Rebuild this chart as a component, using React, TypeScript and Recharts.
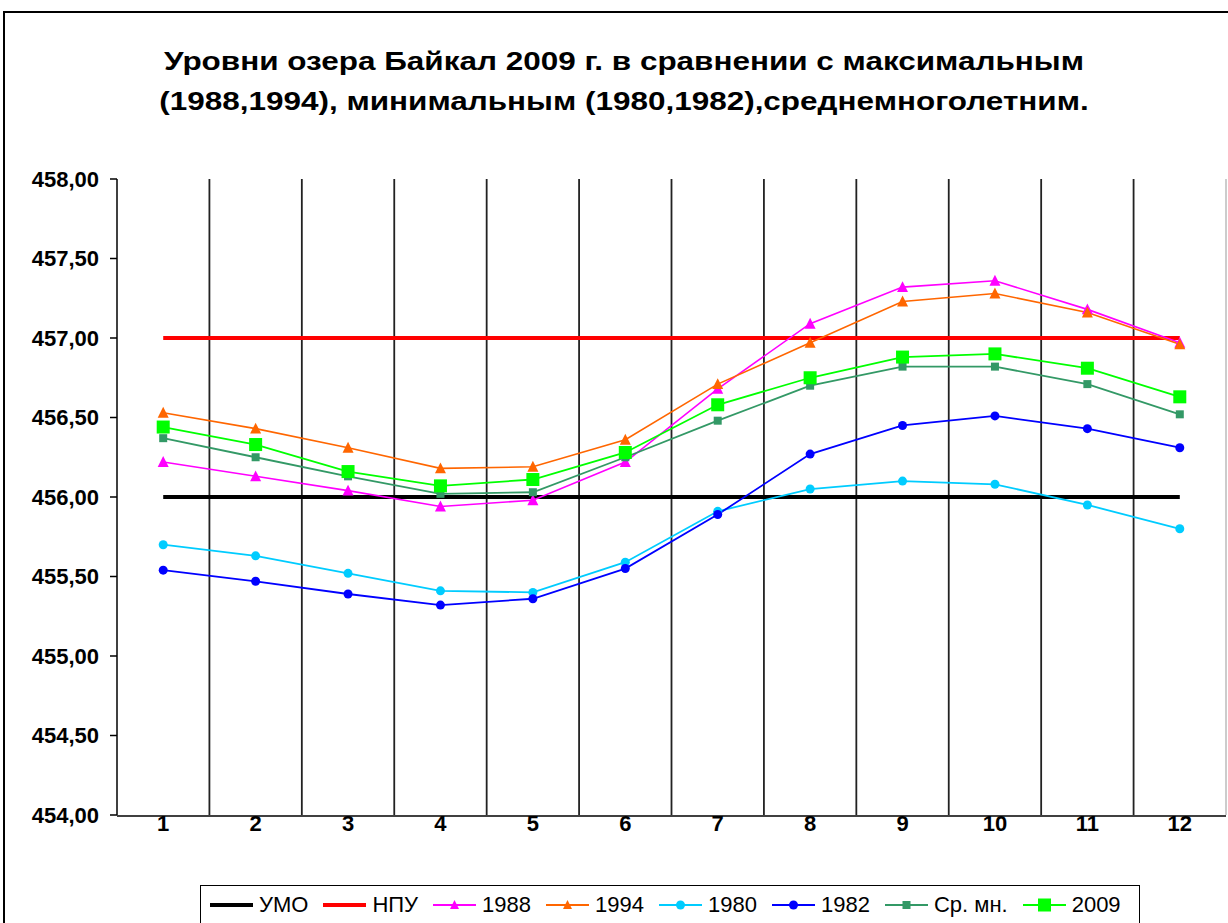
import React from 'react';
import {
  LineChart,
  Line,
  XAxis,
  YAxis,
  ReferenceLine,
  Legend
} from 'recharts';

// months 1..12
const months = [1, 2, 3, 4, 5, 6, 7, 8, 9, 10, 11, 12];

const umo = [456, 456, 456, 456, 456, 456, 456, 456, 456, 456, 456, 456];
const npu = [457, 457, 457, 457, 457, 457, 457, 457, 457, 457, 457, 457];
const y1988 = [456.22, 456.13, 456.04, 455.94, 455.98, 456.22, 456.68, 457.09, 457.32, 457.36, 457.18, 456.97];
const y1994 = [456.53, 456.43, 456.31, 456.18, 456.19, 456.36, 456.71, 456.97, 457.23, 457.28, 457.16, 456.96];
const y1980 = [455.70, 455.63, 455.52, 455.41, 455.40, 455.59, 455.91, 456.05, 456.10, 456.08, 455.95, 455.80];
const y1982 = [455.54, 455.47, 455.39, 455.32, 455.36, 455.55, 455.89, 456.27, 456.45, 456.51, 456.43, 456.31];
const avg = [456.37, 456.25, 456.13, 456.02, 456.03, 456.25, 456.48, 456.70, 456.82, 456.82, 456.71, 456.52];
const y2009 = [456.44, 456.33, 456.16, 456.07, 456.11, 456.28, 456.58, 456.75, 456.88, 456.90, 456.81, 456.63];

const yTicks = [454, 454.5, 455, 455.5, 456, 456.5, 457, 457.5, 458];

const data = months.map((m, i) => ({
  month: m,
  umo: umo[i],
  npu: npu[i],
  y1988: y1988[i],
  y1994: y1994[i],
  y1980: y1980[i],
  y1982: y1982[i],
  avg: avg[i],
  y2009: y2009[i]
}));

// band edges between months (Excel style gridlines / tick marks)
const edges = [0, ...months].map(m => m + 0.5);
const innerEdges = edges.slice(1, -1);

type Shape = 'none' | 'triangle' | 'circle' | 'square';

const series: { key: string; name: string; color: string; width: number; shape: Shape; size: number }[] = [
  { key: 'umo', name: 'УМО', color: '#000000', width: 4, shape: 'none', size: 0 },
  { key: 'npu', name: 'НПУ', color: '#FF0000', width: 4, shape: 'none', size: 0 },
  { key: 'y1988', name: '1988', color: '#FF00FF', width: 1.6, shape: 'triangle', size: 11 },
  { key: 'y1994', name: '1994', color: '#FF6600', width: 1.6, shape: 'triangle', size: 11 },
  { key: 'y1980', name: '1980', color: '#00CCFF', width: 1.8, shape: 'circle', size: 9 },
  { key: 'y1982', name: '1982', color: '#0000FF', width: 1.8, shape: 'circle', size: 9 },
  { key: 'avg', name: 'Ср. мн.', color: '#339966', width: 1.8, shape: 'square', size: 8 },
  { key: 'y2009', name: '2009', color: '#00FF00', width: 1.8, shape: 'square', size: 13 }
];

const Marker = ({ x, y, shape, size, color }: { x: number; y: number; shape: Shape; size: number; color: string }) => {
  if (shape === 'triangle') {
    const h = size * 0.9;
    return <polygon points={`${x},${y - h / 2 - 1} ${x - size / 2},${y + h / 2} ${x + size / 2},${y + h / 2}`} fill={color} />;
  }
  if (shape === 'circle') return <circle cx={x} cy={y} r={size / 2} fill={color} />;
  if (shape === 'square') return <rect x={x - size / 2} y={y - size / 2} width={size} height={size} fill={color} />;
  return null;
};

const makeDot = (shape: Shape, size: number, color: string) => (props: any) => {
  const { cx, cy, index } = props;
  if (shape === 'none' || cx == null || cy == null) return <g key={index} />;
  return <g key={index}><Marker x={cx} y={cy} shape={shape} size={size} color={color} /></g>;
};

const LegendBox = () => (
  <div
    style={{
      display: 'flex',
      alignItems: 'center',
      height: 38,
      border: '1.5px solid #000',
      background: '#fff',
      paddingLeft: 9,
      fontFamily: '"Liberation Sans", Arial, sans-serif',
      fontSize: 22,
      color: '#000',
      whiteSpace: 'nowrap',
      overflow: 'hidden'
    }}
  >
    {series.map(s => (
      <div key={s.key} style={{ display: 'flex', alignItems: 'center', marginRight: 15, flexShrink: 0 }}>
        <svg width={43} height={20} style={{ marginRight: 6, flexShrink: 0 }}>
          <line x1={0} y1={10} x2={43} y2={10} stroke={s.color} strokeWidth={s.width === 4 ? 4 : 2} />
          <Marker x={21.5} y={10} shape={s.shape} size={s.shape === 'square' && s.size > 10 ? 13 : Math.min(s.size, 9)} color={s.color} />
        </svg>
        <span>{s.name}</span>
      </div>
    ))}
  </div>
);

const fmt = (v: number) => v.toFixed(2).replace('.', ',');

export default function App() {
  return (
    <div
      style={{
        position: 'fixed',
        left: 0,
        top: 0,
        width: 1228,
        height: 923,
        overflow: 'hidden',
        background: '#fff',
        fontFamily: '"Liberation Sans", Arial, sans-serif'
      }}
    >
      <div
        style={{
          position: 'absolute',
          left: 3,
          top: 11,
          width: 1400,
          height: 1100,
          border: '2px solid #000'
        }}
      />
      <div
        style={{
          position: 'absolute',
          left: 0,
          width: 1248,
          top: 41,
          textAlign: 'center',
          fontWeight: 'bold',
          fontSize: 26,
          lineHeight: '40px',
          color: '#000',
          transform: 'scaleX(1.21)',
          transformOrigin: '624px 0'
        }}
      >
        Уровни озера Байкал 2009 г. в сравнении с максимальным
        <br />
        (1988,1994), минимальным (1980,1982),среднемноголетним.
      </div>
      <div style={{ position: 'absolute', left: 0, top: 0 }}>
        <LineChart width={1228} height={923} data={data} margin={{ top: 179, right: 2, bottom: 106, left: 0 }}>
          <XAxis
            xAxisId="edges"
            type="number"
            dataKey="month"
            domain={[0.5, 12.5]}
            ticks={edges}
            interval={0}
            tick={false}
            tickSize={8}
            tickLine={{ stroke: '#000', strokeWidth: 1.5 }}
            axisLine={{ stroke: '#000', strokeWidth: 1.5 }}
            height={1}
          />
          <XAxis
            type="number"
            dataKey="month"
            domain={[0.5, 12.5]}
            ticks={months}
            interval={0}
            tickLine={false}
            tickSize={0}
            tickMargin={0}
            axisLine={false}
            tick={{ fill: '#000', fontSize: 22, fontWeight: 'bold' }}
            height={1}
          />
          <YAxis
            type="number"
            domain={[454, 458]}
            ticks={yTicks}
            interval={0}
            width={117}
            tickFormatter={fmt}
            tickSize={7}
            tickMargin={11}
            tickLine={{ stroke: '#000', strokeWidth: 1.5 }}
            axisLine={{ stroke: '#000', strokeWidth: 1.5 }}
            tick={{ fill: '#000', fontSize: 22, fontWeight: 'bold' }}
          />
          {innerEdges.map(e => (
            <ReferenceLine key={e} x={e} stroke="#222" strokeWidth={1.8} />
          ))}
          <ReferenceLine x={12.5} stroke="#bbb" strokeWidth={1.5} />
          {series.map(s => (
            <Line
              key={s.key}
              type="linear"
              dataKey={s.key}
              name={s.name}
              stroke={s.color}
              strokeWidth={s.width}
              dot={makeDot(s.shape, s.size, s.color)}
              activeDot={false}
              isAnimationActive={false}
            />
          ))}
          <Legend
            layout="horizontal"
            verticalAlign="middle"
            align="center"
            content={() => <LegendBox />}
            wrapperStyle={{ left: 200, top: 885, width: 940, height: 50 }}
          />
        </LineChart>
      </div>
    </div>
  );
}
